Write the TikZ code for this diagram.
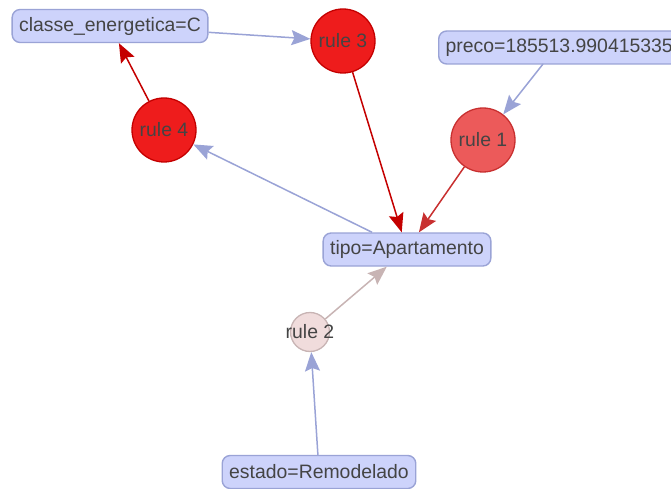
\documentclass[tikz,border=0pt]{standalone}
\usepackage{fontspec}
\setmainfont{Liberation Sans}
\usetikzlibrary{arrows.meta}
\definecolor{boxfill}{HTML}{CDD3FB}
\definecolor{boxline}{HTML}{9AA3D6}
\definecolor{txt}{HTML}{444444}
\definecolor{redA}{HTML}{EE1C1C}
\definecolor{redAline}{HTML}{C40000}
\definecolor{redB}{HTML}{EC5A5A}
\definecolor{redBline}{HTML}{C83030}
\definecolor{pinkC}{HTML}{F0DCDC}
\definecolor{pinkCline}{HTML}{C8B4B4}
\tikzset{
  lbl/.style={text=txt, font=\fontsize{19.4}{22}\selectfont},
  item/.style={lbl, draw=boxline, fill=boxfill, line width=1.4pt, rounded corners=8pt,
    minimum height=33pt, inner xsep=7pt, inner ysep=0pt},
  rulebig/.style={lbl, circle, draw=redAline, fill=redA, line width=1.3pt, minimum size=64pt, inner sep=0pt},
  rulemid/.style={lbl, circle, draw=redBline, fill=redB, line width=1.3pt, minimum size=64pt, inner sep=0pt},
  rulesmall/.style={circle, draw=pinkCline, fill=pinkC, line width=1.3pt, minimum size=39pt, inner sep=0pt},
  conn/.style={line width=1.5pt, -{Stealth[length=19pt, width=15pt, inset=3pt]}},
  blueconn/.style={conn, draw=boxline, fill=boxline},
}
\begin{document}
\begin{tikzpicture}[x=1pt, y=-1pt]
\useasboundingbox (0,0) rectangle (671,489);
\node[item] (classe) at (110,26) {classe\_energetica=C};
\node[rulebig] (r3) at (343,41) {rule 3};
\node[item, anchor=west] (preco) at (438,47.5) {preco=185513.990415335\hspace{20pt}};
\node[rulemid] (r1) at (483,140) {rule 1};
\node[rulebig] (r4) at (164,130) {rule 4};
\node[item] (tipo) at (407,249.5) {tipo=Apartamento};
\node[rulesmall] (r2) at (310,332) {};
\node[lbl] (r2t) at (r2.center) {rule 2};
\node[item] (estado) at (319,472) {estado=Remodelado};

\coordinate (precob) at (543,64);
\draw[blueconn] (classe) -- (r3);
\draw[blueconn] (precob) -- (r1);
\draw[blueconn] (tipo) -- (r4);
\draw[blueconn] (estado) -- (r2);
\draw[conn, draw=redAline, fill=redAline] (r3) -- (tipo);
\draw[conn, draw=redAline, fill=redAline] (r4) -- (classe);
\draw[conn, draw=redBline, fill=redBline] (r1) -- (tipo);
\draw[conn, draw=pinkCline, fill=pinkCline] (r2) -- (tipo);
\end{tikzpicture}
\end{document}
